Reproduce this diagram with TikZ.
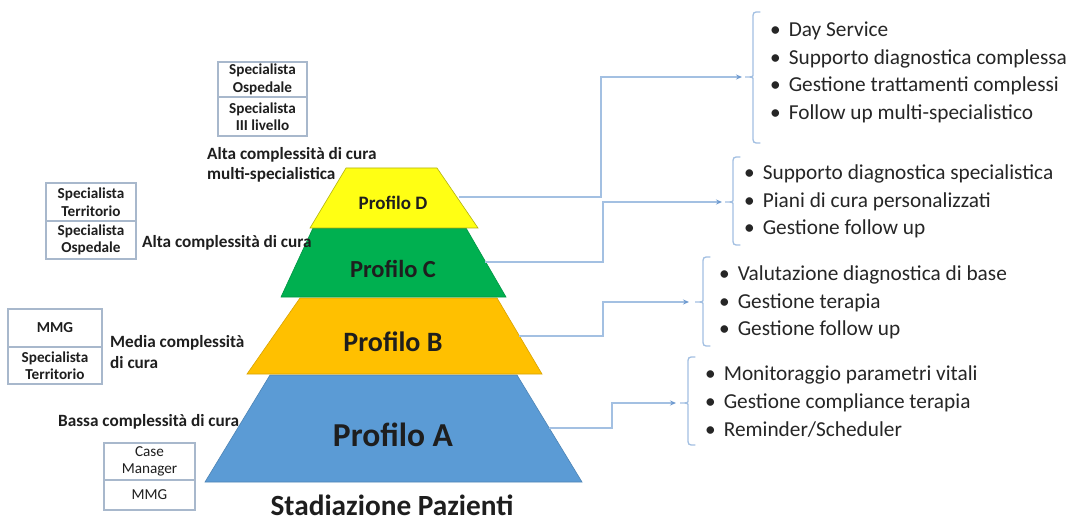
\documentclass[tikz,border=0pt]{standalone}
\usepackage{fontspec}
\setmainfont{Carlito}
\usetikzlibrary{arrows.meta,calc}
\definecolor{pyY}{HTML}{FFFF14}
\definecolor{pyG}{HTML}{00B050}
\definecolor{pyO}{HTML}{FFC000}
\definecolor{pyB}{HTML}{5B9BD5}
\definecolor{lnc}{HTML}{A3C0E2}
\definecolor{arc}{HTML}{6E9AD0}
\definecolor{boxc}{HTML}{A8B8CC}
\definecolor{txt}{HTML}{1E1E1E}
\definecolor{ltxt}{HTML}{262626}
\tikzset{
  boxpart/.style={draw=boxc, line width=1.4pt, inner sep=0pt, align=center, text=txt},
  lefttxt/.style={inner sep=0pt, align=left, anchor=west, text=txt, font=\fontsize{17.2}{20}\selectfont\bfseries},
  proflabel/.style={inner sep=0pt, text=txt},
  listtxt/.style={inner sep=0pt, align=left, anchor=west, text=ltxt, font=\fontsize{21.3}{27.7}\selectfont},
  conn/.style={draw=lnc, line width=1.3pt, -{Stealth[length=6pt,width=5pt,color=arc]}},
  bracec/.style={draw=lnc, line width=1.3pt, line cap=round},
  layer/.style={line width=0.6pt}
}
\newcommand{\bl}{\textbullet\hspace{8pt}}
\begin{document}
\begin{tikzpicture}[x=1pt,y=-1pt]
\useasboundingbox[fill=white] (0,0) rectangle (1078,521);

% pyramid layers
\filldraw[layer, fill=pyB, draw=pyB!85!black] (270,375) -- (517,375) -- (582,482) -- (205,482) -- cycle;
\filldraw[layer, fill=pyO, draw=pyO!85!black] (300,298) -- (497,298) -- (542,374) -- (247,374) -- cycle;
\filldraw[layer, fill=pyG, draw=pyG!85!black] (313,228) -- (466,228) -- (506,297) -- (281,297) -- cycle;
\filldraw[layer, fill=pyY, draw=pyY!70!black] (346,168) -- (437,168) -- (478,228) -- (310,228) -- cycle;

\node[proflabel, font=\fontsize{19}{22}\selectfont\bfseries] (pD) at (393,203) {Profilo D};
\node[proflabel, font=\fontsize{24.5}{28}\selectfont\bfseries] (pC) at (393,269) {Profilo C};
\node[proflabel, font=\fontsize{28}{32}\selectfont\bfseries] (pB) at (393,342) {Profilo B};
\node[proflabel, font=\fontsize{33.5}{38}\selectfont\bfseries] (pA) at (393,435) {Profilo A};
\node[proflabel, font=\fontsize{29.3}{32}\selectfont\bfseries] (title) at (392,505) {Stadiazione Pazienti};

% left labels
\node[lefttxt] (lD) at (207,165) {Alta complessità di cura\\multi-specialistica};
\node[lefttxt] (lC) at (142,243) {Alta complessità di cura};
\node[lefttxt, font=\fontsize{17.2}{21}\selectfont\bfseries] (lB) at (110,352.5) {Media complessità\\di cura};
\node[lefttxt] (lA) at (58,422) {Bassa complessità di cura};

% role boxes
\begin{scope}[font=\fontsize{15.2}{17.5}\selectfont\bfseries]
\node[boxpart, minimum width=89pt, minimum height=35pt] (b1t) at (262.5,79.5) {Specialista\\Ospedale};
\node[boxpart, minimum width=89pt, minimum height=39pt] (b1b) at (262.5,116.5) {Specialista\\III livello};
\node[boxpart, minimum width=90pt, minimum height=38pt] (b2t) at (91,202) {Specialista\\Territorio};
\node[boxpart, minimum width=90pt, minimum height=38pt] (b2b) at (91,240) {Specialista\\Ospedale};
\node[boxpart, minimum width=94pt, minimum height=38pt] (b3t) at (55,328) {MMG};
\node[boxpart, minimum width=94pt, minimum height=37pt] (b3b) at (55,365.5) {Specialista\\Territorio};
\node[boxpart, minimum width=91pt, minimum height=37pt, font=\fontsize{15.2}{17.5}\selectfont] (b4t) at (149.5,461.5) {Case\\Manager};
\node[boxpart, minimum width=91pt, minimum height=30pt, font=\fontsize{15.2}{17.5}\selectfont] (b4b) at (149.5,495) {MMG};
\end{scope}

% connector anchor points
\coordinate (sD) at (459,197);
\coordinate (sC) at (485,262);
\coordinate (sB) at (519,336);
\coordinate (sA) at (549,428);
\coordinate (j1) at (601,140);
\coordinate (j2) at (603,230);
\coordinate (j3) at (603,320);
\coordinate (j4) at (612,415);
\coordinate (t1) at (742,77);
\coordinate (t2) at (722,202);
\coordinate (t3) at (689,302);
\coordinate (t4) at (676,403);

\draw[conn] (sD) -| (j1) |- (t1);
\draw[conn] (sC) -| (j2) |- (t2);
\draw[conn] (sB) -| (j3) |- (t3);
\draw[conn] (sA) -| (j4) |- (t4);

% braces (x, top, mid, bottom)
\foreach \bx/\bt/\bm/\bb in {753/12/77/143, 733/157/202/245, 703/257/302/346, 688/357/403/445}{
  \draw[bracec] (\bx+7,\bt) .. controls (\bx,\bt) .. (\bx,\bt+7) -- (\bx,\bm-3)
     .. controls (\bx,\bm) .. (\bx-8,\bm) .. controls (\bx,\bm) .. (\bx,\bm+3)
     -- (\bx,\bb-7) .. controls (\bx,\bb) .. (\bx+7,\bb);
}

% lists
\node[listtxt] (L1) at (770,72.5) {\bl Day Service\\\bl Supporto diagnostica complessa\\\bl Gestione trattamenti complessi\\\bl Follow up multi-specialistico};
\node[listtxt] (L2) at (744,201.5) {\bl Supporto diagnostica specialistica\\\bl Piani di cura personalizzati\\\bl Gestione follow up};
\node[listtxt] (L3) at (719,302.5) {\bl Valutazione diagnostica di base\\\bl Gestione terapia\\\bl Gestione follow up};
\node[listtxt] (L4) at (705,401.5) {\bl Monitoraggio parametri vitali\\\bl Gestione compliance terapia\\\bl Reminder/Scheduler};
\end{tikzpicture}
\end{document}
